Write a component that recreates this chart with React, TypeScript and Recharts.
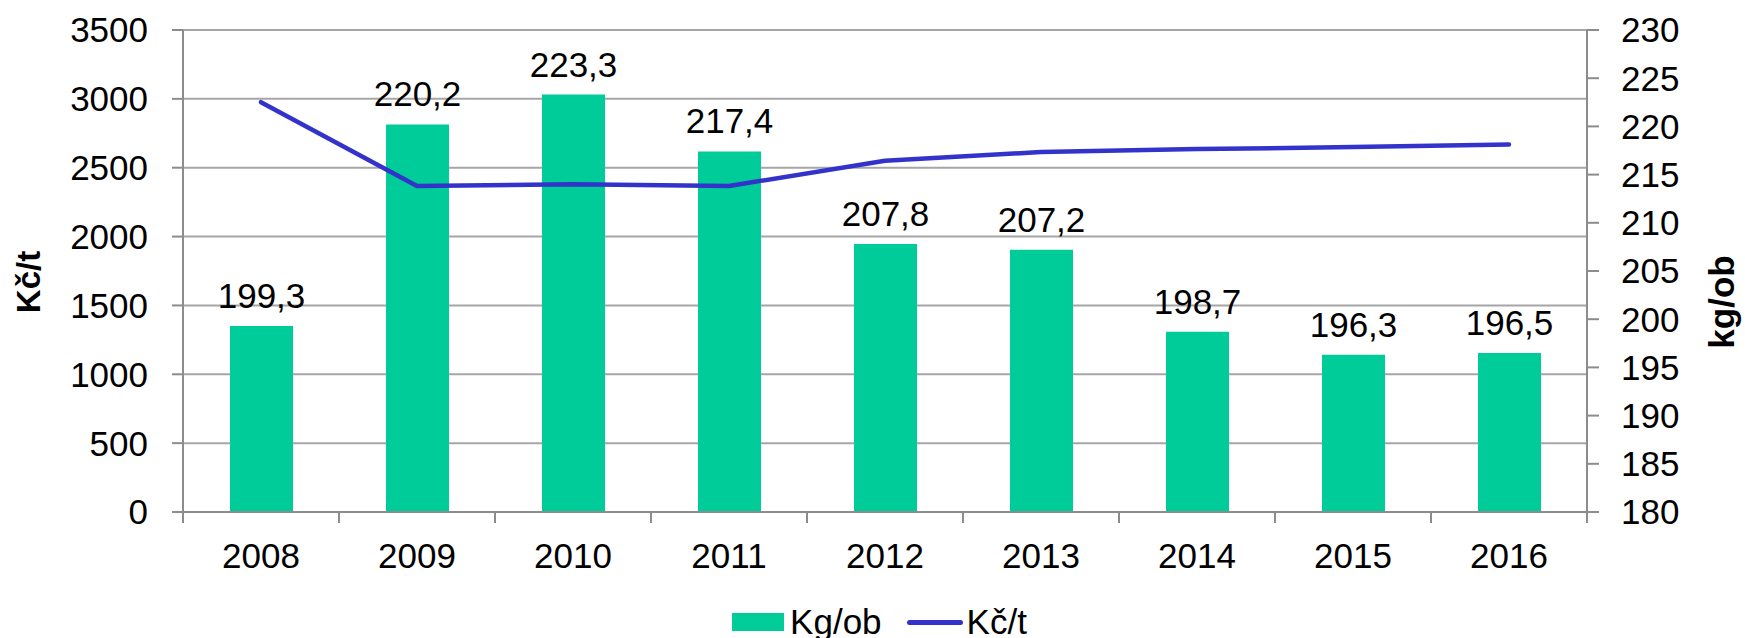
import { ComposedChart, Bar, Line, XAxis, YAxis, CartesianGrid, Legend, LabelList } from 'recharts';

const years = ['2008', '2009', '2010', '2011', '2012', '2013', '2014', '2015', '2016'];
const kgPerPerson = [199.3, 220.2, 223.3, 217.4, 207.8, 207.2, 198.7, 196.3, 196.5];
const czkPerTonne = [2976, 2367, 2380, 2367, 2551, 2614, 2635, 2650, 2669];
const leftTicks = [0, 500, 1000, 1500, 2000, 2500, 3000, 3500];
const rightTicks = [180, 185, 190, 195, 200, 205, 210, 215, 220, 225, 230];

const data = years.map((year, i) => ({ year, kg: kgPerPerson[i], czk: czkPerTonne[i] }));

const W = 1745;
const H = 638;
const LEFT_W = 183;
const RIGHT_W = 158;
const BAND = (W - LEFT_W - RIGHT_W) / years.length;
const FONT = 'Arial, "Liberation Sans", sans-serif';
const GREEN = '#00CC99';
const BLUE = '#3333CC';
const AXIS = '#8c8c8c';

const fmt = (v: number) => v.toFixed(1).replace('.', ',');

function YearTick(props: any) {
  const { x, y, payload, index } = props;
  const half = BAND / 2;
  return (
    <g>
      <line x1={x - half} x2={x - half} y1={y} y2={y + 11} stroke={AXIS} strokeWidth={2} />
      {index === years.length - 1 && (
        <line x1={x + half} x2={x + half} y1={y} y2={y + 11} stroke={AXIS} strokeWidth={2} />
      )}
      <text x={x} y={y + 31} dy="0.71em" textAnchor="middle" fontSize={35} fill="#000" fontFamily={FONT}>
        {payload.value}
      </text>
    </g>
  );
}

function BarValue(props: any) {
  const { x, y, width, value } = props;
  return (
    <text x={x + width / 2} y={y - 18} textAnchor="middle" fontSize={35} fill="#000" fontFamily={FONT}>
      {fmt(value)}
    </text>
  );
}

function AxisTitle({ viewBox, text, dx, dy, size }: any) {
  const cx = viewBox.x + dx;
  const cy = viewBox.y + viewBox.height / 2 + dy;
  return (
    <text
      x={cx}
      y={cy}
      transform={`rotate(-90, ${cx}, ${cy})`}
      textAnchor="middle"
      dominantBaseline="central"
      fontSize={size}
      fontWeight="bold"
      fill="#000"
      fontFamily={FONT}
    >
      {text}
    </text>
  );
}

function LegendBox() {
  return (
    <div
      style={{
        display: 'flex',
        alignItems: 'center',
        justifyContent: 'center',
        height: 30,
        paddingLeft: 14,
        fontFamily: FONT,
        fontSize: 35,
        color: '#000',
      }}
    >
      <span style={{ width: 52, height: 18, background: GREEN, marginRight: 6 }} />
      <span>Kg/ob</span>
      <span style={{ width: 56, height: 5, background: BLUE, borderRadius: 3, marginLeft: 25, marginRight: 4 }} />
      <span>Kč/t</span>
    </div>
  );
}

export default function App() {
  return (
    <div style={{ position: 'absolute', left: 0, top: 0, width: W, height: H, background: '#fff', fontFamily: FONT }}>
      <ComposedChart width={W} height={H} data={data} margin={{ top: 30, right: 0, bottom: 1, left: 0 }}>
        <CartesianGrid yAxisId="left" vertical={false} stroke="#a6a6a6" strokeWidth={2} />
        <XAxis
          dataKey="year"
          height={95}
          tickSize={0}
          tickMargin={0}
          tickLine={false}
          interval={0}
          axisLine={{ stroke: AXIS, strokeWidth: 2 }}
          tick={<YearTick />}
        />
        <YAxis
          yAxisId="left"
          width={LEFT_W}
          domain={[0, 3500]}
          ticks={leftTicks}
          tickSize={11}
          tickMargin={24}
          axisLine={{ stroke: AXIS, strokeWidth: 2 }}
          tickLine={{ stroke: AXIS, strokeWidth: 2 }}
          tick={{ fill: '#000', fontSize: 35, fontFamily: FONT }}
          label={(p: any) => <AxisTitle viewBox={p.viewBox} text="Kč/t" dx={28} dy={11} size={33} />}
        />
        <YAxis
          yAxisId="right"
          orientation="right"
          width={RIGHT_W}
          domain={[180, 230]}
          ticks={rightTicks}
          tickSize={12}
          tickMargin={22}
          axisLine={{ stroke: AXIS, strokeWidth: 2 }}
          tickLine={{ stroke: AXIS, strokeWidth: 2 }}
          tick={{ fill: '#000', fontSize: 35, fontFamily: FONT }}
          label={(p: any) => <AxisTitle viewBox={p.viewBox} text="kg/ob" dx={134} dy={31} size={35} />}
        />
        <Bar yAxisId="right" dataKey="kg" name="Kg/ob" fill={GREEN} barSize={63} isAnimationActive={false}>
          <LabelList dataKey="kg" content={<BarValue />} />
        </Bar>
        <Line
          yAxisId="left"
          dataKey="czk"
          name="Kč/t"
          stroke={BLUE}
          strokeWidth={4.5}
          strokeLinecap="round"
          strokeLinejoin="round"
          dot={false}
          isAnimationActive={false}
        />
        <Legend verticalAlign="bottom" content={<LegendBox />} />
      </ComposedChart>
    </div>
  );
}
